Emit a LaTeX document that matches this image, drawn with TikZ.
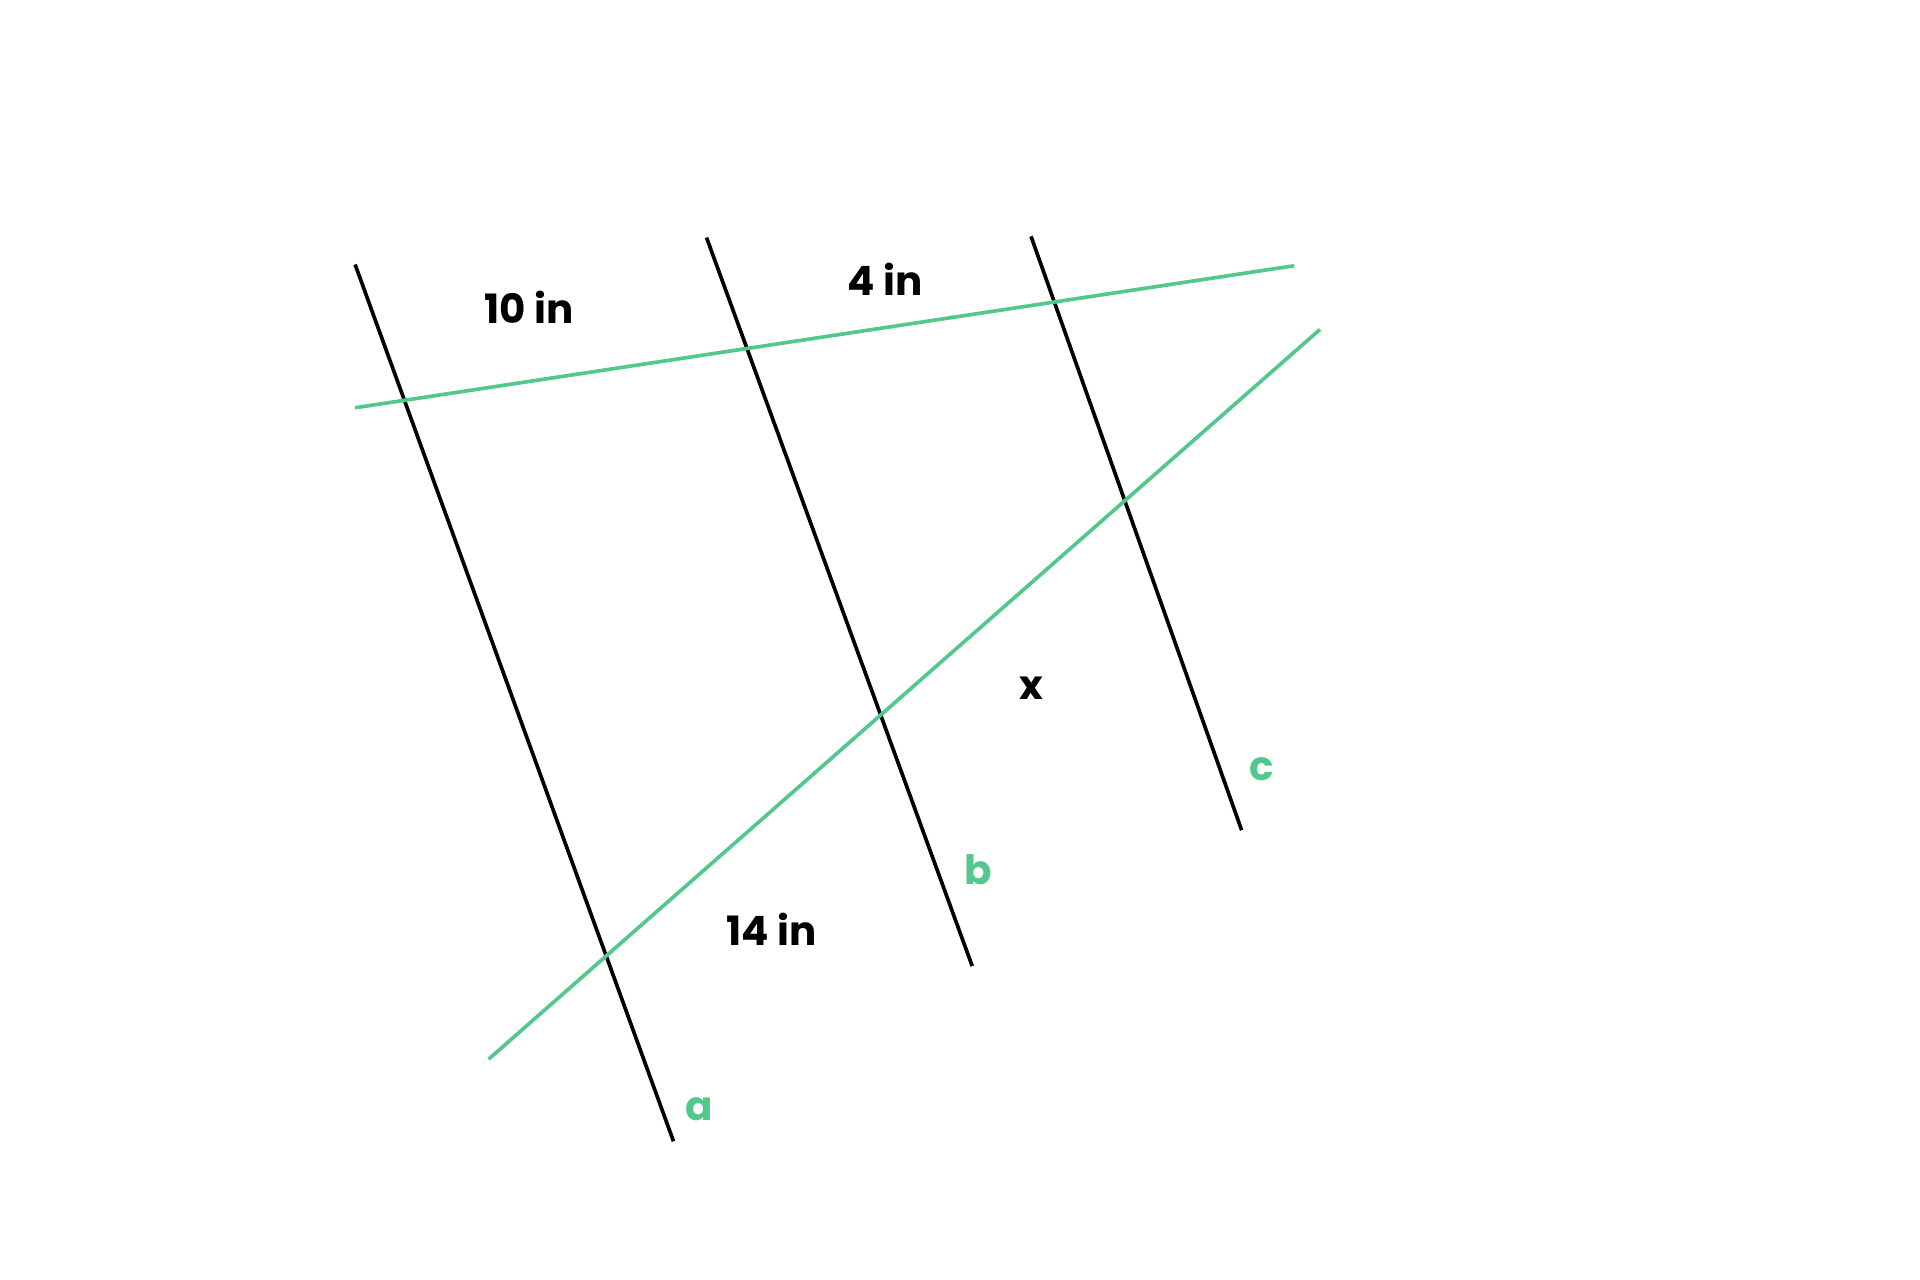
\documentclass[tikz,border=0pt]{standalone}
\usepackage{fontspec}
\setmainfont{Poppins}[BoldFont={* Bold}]
\definecolor{grn}{RGB}{82,200,140}
\tikzset{
  blk/.style={draw=black, line width=1.5pt},
  gline/.style={draw=grn, line width=1.5pt},
  lab/.style={font=\fontsize{16.5}{20}\selectfont\bfseries, text=black, inner sep=0pt},
  glab/.style={font=\fontsize{16.5}{20}\selectfont\bfseries, text=grn, inner sep=0pt},
}
\begin{document}
\begin{tikzpicture}[x=0.5pt,y=-0.5pt]
\useasboundingbox (0,0) rectangle (1568,1045);
% endpoints
\coordinate (a1) at (290,216);
\coordinate (a2) at (550,932);
\coordinate (b1) at (577,194);
\coordinate (b2) at (794,789);
\coordinate (c1) at (842,193);
\coordinate (c2) at (1014,678);
\coordinate (g1) at (290,333);
\coordinate (g2) at (1057,217);
\coordinate (h1) at (399,865);
\coordinate (h2) at (1078,269);
\draw[blk] (a1) -- (a2);
\draw[blk] (b1) -- (b2);
\draw[blk] (c1) -- (c2);
\draw[gline] (g1) -- (g2);
\draw[gline] (h1) -- (h2);
\node[lab] (t10) at (432,251) {10 in};
\node[lab] (t4) at (723,228) {4 in};
\node[lab] (t14) at (630,759) {14 in};
\node[lab] (tx) at (842,562) {x};
\node[glab] (la) at (571,906) {a};
\node[glab] (lb) at (799,710) {b};
\node[glab] (lc) at (1030,628) {c};
\end{tikzpicture}
\end{document}
